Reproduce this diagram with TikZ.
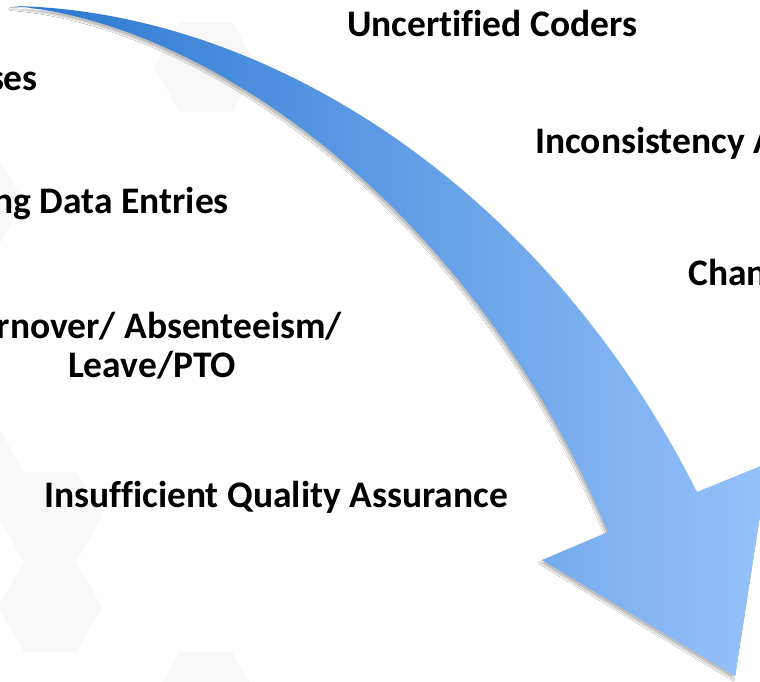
\documentclass[tikz,border=0pt]{standalone}
\usepackage{fontspec}
\setmainfont[Ligatures=NoCommon]{Carlito}
\usepackage{tikz}
\usetikzlibrary{shadows.blur}

\definecolor{arrowdark}{RGB}{40,118,208}
\definecolor{arrowlight}{RGB}{150,194,250}
\definecolor{hexgray}{RGB}{248,248,248}

\begin{document}
\begin{tikzpicture}[x=1pt, y=-1pt,
    lbl/.style={inner sep=0pt, text=black, font=\bfseries\fontsize{37.5}{45}\selectfont},
    hexcell/.style={fill=hexgray, draw=none}]

        % Declare the page
        \fill[white] (0, 0) rectangle (760, 681);
        \useasboundingbox (0, 0) rectangle (760, 681);

        % Declare the background cells
        \foreach \cx/\cy in {206/67, -28/202, -28/472, 50/517, 50/607, 206/697}
            \fill[hexcell] (\cx, \cy) ++(52, 0) -- ++(-26, 45) -- ++(-52, 0) -- ++(-26, -45)
                -- ++(26, -45) -- ++(52, 0) -- cycle;

        % Declare the arrow
        \shade[left color=arrowdark, right color=arrowlight,
               blur shadow={shadow xshift=-2pt, shadow yshift=-3pt,
                            shadow blur radius=1.5pt, shadow opacity=25}]
            (12, 6) .. controls (260, 10) and (540, 180) .. (697, 492)
            -- (768, 463) -- (735, 676) -- (542, 560) -- (608, 532)
            .. controls (470, 200) and (200, 20) .. (12, 6) -- cycle;

        % Declare the labels
        \node[lbl, anchor=base west] at (347, 36) (coders) {Uncertified Coders};
        \node[lbl, anchor=base east] at (38, 90) (diag) {ses};
        \node[lbl, anchor=base east] at (229, 213) (entries) {ng Data Entries};
        \node[lbl, anchor=base east] at (342, 338) (turnover) {rnover/ Absenteeism/};
        \node[lbl, anchor=base] at (152, 377) (leave) {Leave/PTO};
        \node[lbl, anchor=base west] at (44, 507) (quality) {Insufficient Quality Assurance};
        \node[lbl, anchor=base west] at (535, 153) (incons) {Inconsistency A};
        \node[lbl, anchor=base west] at (688, 285) (change) {Chan};

    \end{tikzpicture}
\end{document}
